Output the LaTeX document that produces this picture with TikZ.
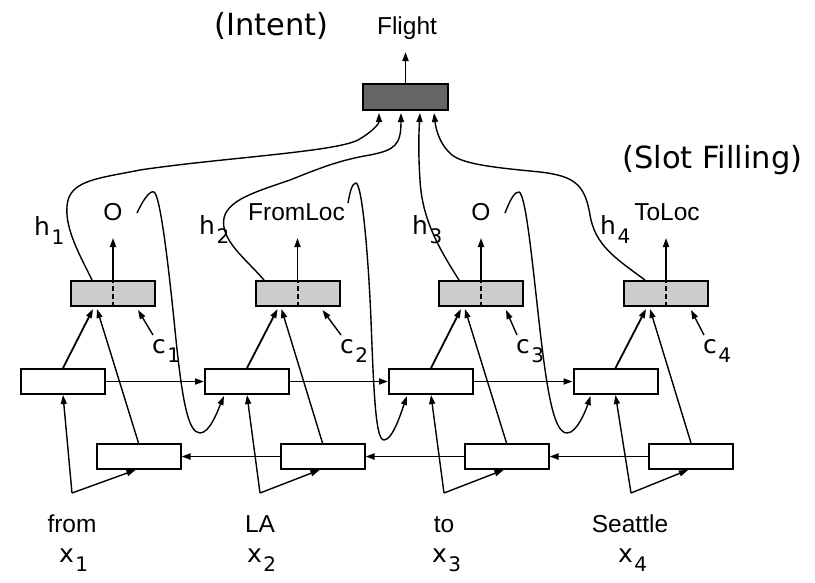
\documentclass[tikz,border=0pt]{standalone}
\usepackage{fontspec}
\setmainfont{Liberation Sans}
\newfontfamily\dv{DejaVu Sans}
\usetikzlibrary{arrows.meta,calc}
\definecolor{lgray}{HTML}{CCCCCC}
\definecolor{dgray}{HTML}{666666}
\newcommand{\lowsub}[1]{\kern1.5pt\raisebox{-9pt}{\fontsize{20}{23}\selectfont #1}}
\begin{document}
\begin{tikzpicture}[x=1pt,y=-1pt,
  box/.style={draw, line width=2pt, minimum width=84pt, minimum height=25pt, inner sep=0pt},
  wbox/.style={box, fill=white},
  gbox/.style={box, fill=lgray},
  tbox/.style={box, fill=dgray, minimum width=85pt, minimum height=26pt},
  arr/.style={-{Triangle[length=9pt,width=6pt]}, line width=1.8pt},
  carr/.style={-{Triangle[length=9pt,width=6pt]}, line width=1.4pt},
  dash line/.style={line width=2pt, dash pattern=on 5pt off 3pt},
  lab/.style={font=\fontsize{24.5}{28}\selectfont, inner sep=0pt, anchor=base},
  sym/.style={font=\dv\fontsize{25}{28}\selectfont, inner sep=0pt, anchor=base west},
  big/.style={font=\dv\fontsize{30.5}{34}\selectfont, inner sep=0pt, anchor=base},
]
\useasboundingbox (0,0) rectangle (815,582);

% titles
\node[big] (intent) at (271.5,35) {(Intent)};
\node[big] (slot) at (712.5,168) {(Slot Filling)};

% top intent box
\node[tbox] (top) at (405.5,97) {};
\node[lab] (flight) at (407,34) {Flight};
\draw[arr] (top.north) -- ($(top.north)+(0,-31)$);

% output layer boxes
\node[gbox] (g1) at (113,293.5) {};
\node[gbox] (g2) at (297.5,293.5) {};
\node[gbox] (g3) at (481,293.5) {};
\node[gbox] (g4) at (666,293.5) {};

% forward boxes
\node[wbox] (f1) at (63,381.5) {};
\node[wbox] (f2) at (247,381.5) {};
\node[wbox] (f3) at (431,381.5) {};
\node[wbox] (f4) at (615.5,381.5) {};

% backward boxes
\node[wbox] (b1) at (138.5,456.5) {};
\node[wbox] (b2) at (322.5,456.5) {};
\node[wbox] (b3) at (506.5,456.5) {};
\node[wbox] (b4) at (691,456.5) {};

% slot labels
\node[lab] (o1) at (113,220) {O};
\node[lab] (o2) at (296.5,220) {FromLoc};
\node[lab] (o3) at (481,220) {O};
\node[lab] (o4) at (667,220) {ToLoc};

% h labels
\node[sym] (h1) at (34,235) {h\lowsub{1}};
\node[sym] (h2) at (199,234) {h\lowsub{2}};
\node[sym] (h3) at (412,234) {h\lowsub{3}};
\node[sym] (h4) at (600,234) {h\lowsub{4}};

% c labels
\node[sym] (c1) at (152,353) {c\lowsub{1}};
\node[sym] (c2) at (340,353) {c\lowsub{2}};
\node[sym] (c3) at (516,353) {c\lowsub{3}};
\node[sym] (c4) at (703,353) {c\lowsub{4}};

% words
\node[lab] (w1) at (72,532) {from};
\node[lab] (w2) at (260,532) {LA};
\node[lab] (w3) at (444,532) {to};
\node[lab] (w4) at (630,532) {Seattle};

% x labels
\node[sym] (x1) at (59,562) {x\lowsub{1}};
\node[sym] (x2) at (247,562) {x\lowsub{2}};
\node[sym] (x3) at (432,562) {x\lowsub{3}};
\node[sym] (x4) at (618,562) {x\lowsub{4}};

% input split points
\coordinate (i1) at (72,493);
\coordinate (i2) at (260,493);
\coordinate (i3) at (444,493);
\coordinate (i4) at (631,493);

% dashed lines in output boxes and output arrows
\foreach \g in {g1,g2,g3,g4}{
  \draw[dash line] (\g.south) -- (\g.north);
  \draw[arr] (\g.north) -- ($(\g.north)+(0,-42)$);
}

% forward / backward recurrences
\draw[arr] (f1.east) -- (f2.west);
\draw[arr] (f2.east) -- (f3.west);
\draw[arr] (f3.east) -- (f4.west);
\draw[arr] (b4.west) -- (b3.east);
\draw[arr] (b3.west) -- (b2.east);
\draw[arr] (b2.west) -- (b1.east);

% inputs
\foreach \i in {1,2,3,4}{
  \draw[carr] (i\i) -- (f\i.south);
  \draw[carr] (i\i) -- ($(b\i.south)+(-3,0)$);
  \draw[arr] (f\i.north) -- ($(g\i.south)+(-20,2)$);
  \draw[carr] (b\i.north) -- ($(g\i.south)+(-16,2)$);
  \draw[carr] ($(c\i.base west)+(1,-18)$) -- ($(g\i.south)+(25,3)$);
}

% curves to intent box
\draw[carr] ($(g1.north)+(-21,0)$) .. controls (80,255) and (62,225) .. (68,200)
   .. controls (74,180) and (100,178) .. (140,170)
   .. controls (220,158) and (335,152) .. (358,140)
   .. controls (372,132) and (379,124) .. ($(top.south)+(-26.5,2)$);
\draw[carr] ($(g2.north)+(-33.5,0)$) .. controls (245,258) and (220,240) .. (224,218)
   .. controls (228,200) and (255,192) .. (290,180)
   .. controls (320,168) and (340,160) .. (370,155)
   .. controls (395,150) and (401,145) .. ($(top.south)+(-4.5,2)$);
\draw[carr] ($(g3.north)+(-22,0)$) .. controls (440,250) and (422,220) .. (420,180)
   .. controls (418,150) and (419,130) .. ($(top.south)+(14.5,2)$);
\draw[carr] ($(g4.north)+(-21,0)$) .. controls (615,258) and (595,245) .. (590,215)
   .. controls (585,185) and (575,176) .. (540,172)
   .. controls (500,168) and (465,165) .. (452,155)
   .. controls (440,145) and (436,130) .. ($(top.south)+(28.5,2)$);

% feedback wiggles
\coordinate (s1) at (137,213);
\coordinate (s2) at (348,203);
\coordinate (s3) at (505,213);
\draw[carr] (s1) .. controls (143,200) and (150,190) .. (154,192)
   .. controls (160,195) and (168,260) .. (175,330)
   .. controls (182,400) and (188,433) .. (200,433)
   .. controls (210,433) and (218,410) .. ($(f2.south west)+(20,1)$);
\draw[carr] (s2) .. controls (350,192) and (352,183) .. (356,183)
   .. controls (362,185) and (368,250) .. (371,320)
   .. controls (374,400) and (376,440) .. (384,440)
   .. controls (393,440) and (402,410) .. ($(f3.south west)+(19,1)$);
\draw[carr] (s3) .. controls (510,200) and (515,191) .. (519,192)
   .. controls (526,195) and (532,260) .. (540,330)
   .. controls (548,400) and (555,433) .. (567,433)
   .. controls (577,433) and (586,410) .. ($(f4.south west)+(18,1)$);
\end{tikzpicture}
\end{document}
